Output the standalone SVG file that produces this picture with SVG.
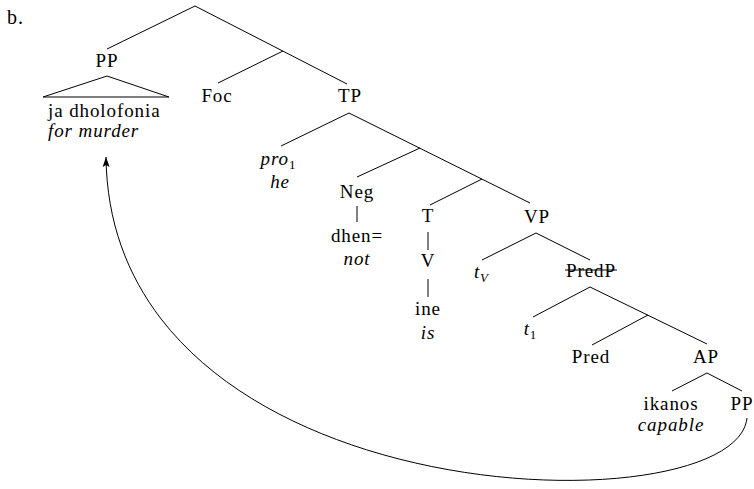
<svg xmlns="http://www.w3.org/2000/svg" width="754" height="489" viewBox="0 0 754 489">
<defs>
<style>
text{font-family:"Liberation Serif","DejaVu Serif","Times New Roman",serif;font-size:19px;letter-spacing:0.9px;fill:#000;text-anchor:middle}
.it{font-style:italic}
.sub{font-size:13px;font-style:normal;letter-spacing:0}
.l{stroke:#000;stroke-width:1;fill:none}
</style>
<marker id="ah" markerWidth="12" markerHeight="10" refX="10" refY="5" orient="auto" markerUnits="userSpaceOnUse">
<path d="M0,1.5 L10,5 L0,8.5 L2,5 z" fill="#000"/>
</marker>
</defs>
<rect width="754" height="489" fill="#fff"/>
<text x="7" y="24" style="text-anchor:start;font-size:20px">b.</text>
<g id="connectors">
<line class="l" x1="195" y1="6" x2="107" y2="49"/>
<line class="l" x1="195" y1="6" x2="347" y2="84"/>
<line class="l" x1="283" y1="51" x2="218" y2="83"/>
<polygon class="l" points="107,76 43,97 169,97"/>
<line class="l" x1="349" y1="113" x2="281" y2="146"/>
<line class="l" x1="349" y1="113" x2="530" y2="203"/>
<line class="l" x1="420" y1="148" x2="357" y2="177"/>
<line class="l" x1="482" y1="179" x2="430" y2="205"/>
<line class="l" x1="357" y1="206" x2="357" y2="222"/>
<line class="l" x1="428" y1="232" x2="428" y2="250"/>
<line class="l" x1="428" y1="279" x2="428" y2="297"/>
<line class="l" x1="536" y1="233" x2="482" y2="260"/>
<line class="l" x1="536" y1="233" x2="590" y2="260"/>
<line class="l" x1="590" y1="287" x2="533" y2="317"/>
<line class="l" x1="590" y1="287" x2="707" y2="344"/>
<line class="l" x1="648" y1="315" x2="592" y2="345"/>
<line class="l" x1="707" y1="373" x2="672" y2="391"/>
<line class="l" x1="707" y1="373" x2="742" y2="391"/>
<path class="l" d="M747,418 C736,530 110,518 106,157" marker-end="url(#ah)"/>
</g>
<g id="n-PP"><text x="107" y="67">PP</text></g>
<g id="n-jadholofonia"><text x="48" y="117" style="text-anchor:start">ja dholofonia</text><text x="48" y="137" class="it" style="text-anchor:start">for murder</text></g>
<g id="n-Foc"><text x="217" y="102">Foc</text></g>
<g id="n-TP"><text x="350" y="102">TP</text></g>
<g id="n-pro"><text x="278" y="165"><tspan class="it">pro</tspan><tspan class="sub" dy="4">1</tspan></text><text x="280" y="188" class="it">he</text></g>
<g id="n-Neg"><text x="357" y="198">Neg</text></g>
<g id="n-dhen"><text x="357" y="242">dhen=</text><text x="357" y="265" class="it">not</text></g>
<g id="n-T"><text x="428" y="222">T</text></g>
<g id="n-V"><text x="428" y="267">V</text></g>
<g id="n-ine"><text x="428" y="315">ine</text><text x="428" y="339" class="it">is</text></g>
<g id="n-VP"><text x="537" y="223">VP</text></g>
<g id="n-tV"><text x="481" y="278"><tspan class="it">t</tspan><tspan class="sub" style="font-style:italic" dy="4">V</tspan></text></g>
<g id="n-PredP"><text x="591" y="277">PredP</text><line class="l" x1="565" y1="270" x2="617" y2="270"/></g>
<g id="n-t1"><text x="530" y="335"><tspan class="it">t</tspan><tspan class="sub" dy="4">1</tspan></text></g>
<g id="n-Pred"><text x="591" y="363">Pred</text></g>
<g id="n-AP"><text x="706" y="363">AP</text></g>
<g id="n-ikanos"><text x="671" y="410">ikanos</text><text x="671" y="431" class="it">capable</text></g>
<g id="n-PP2"><text x="742" y="410">PP</text></g>
</svg>
